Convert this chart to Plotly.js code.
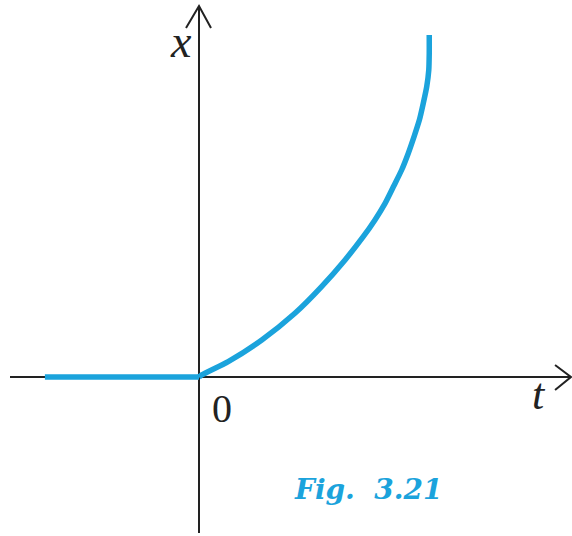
<!DOCTYPE html>
<html>
<head>
<meta charset="utf-8">
<script src="https://cdn.plot.ly/plotly-3.0.1.min.js"></script>
<style>html,body{margin:0;padding:0;background:#fff;}#chart{width:572px;height:536px;}</style>
</head>
<body>
<div id="chart"></div>
<script>
// Data (t and x in arbitrary units)
const tFlat = [-6.7, 0];
const xFlat = [0, 0];
const tCurve = [0, 0.12, 1.27, 2.73, 4.17, 5.33, 6.35, 7.14, 7.65, 8.09, 8.45, 8.81, 9.1, 9.35, 9.58, 9.75, 9.9, 9.99, 10.01, 10.01];
const xCurve = [0, 0.09, 0.67, 1.61, 2.77, 3.93, 5.09, 6.1, 6.83, 7.55, 8.27, 9.0, 9.73, 10.45, 11.17, 11.9, 12.62, 13.35, 14.07, 14.87];
const axisLabels = ["<i>x</i>", "<i>t</i>", "0"];
const figLabel = "<b><i>Fig.&nbsp; 3.21</i></b>";

const blue = "#1ba3dc";
const axisColor = "#222222";

const traces = [
  {x: tFlat, y: xFlat, mode: "lines", line: {color: blue, width: 5.5}, hoverinfo: "skip"},
  {x: tCurve, y: xCurve, mode: "lines", line: {color: blue, width: 5.5, shape: "spline", smoothing: 0.6}, hoverinfo: "skip"}
];

const layout = {
  width: 572, height: 536,
  margin: {l: 0, r: 0, t: 0, b: 0},
  paper_bgcolor: "#ffffff", plot_bgcolor: "#ffffff",
  showlegend: false,
  xaxis: {range: [-8.652, 16.217], visible: false, fixedrange: true},
  yaxis: {range: [-6.913, 16.391], visible: false, fixedrange: true},
  shapes: [
    {type: "line", xref: "x", yref: "y", x0: -8.217, x1: 16.17, y0: 0, y1: 0, line: {color: axisColor, width: 2}, layer: "below"},
    {type: "line", xref: "x", yref: "y", x0: 0, x1: 0, y0: -6.78, y1: 16.13, line: {color: axisColor, width: 2}, layer: "below"},
    {type: "path", xref: "x", yref: "y", path: "M -0.565 15.17 L 0 16.13 L 0.522 15.17", line: {color: axisColor, width: 2}},
    {type: "path", xref: "x", yref: "y", path: "M 15.48 0.52 L 16.17 0 L 15.48 -0.565", line: {color: axisColor, width: 2}}
  ],
  annotations: [
    {x: -0.8, y: 14.6, xref: "x", yref: "y", text: axisLabels[0], showarrow: false, font: {family: "Liberation Serif", size: 46, color: "#222"}},
    {x: 14.8, y: -0.75, xref: "x", yref: "y", text: axisLabels[1], showarrow: false, font: {family: "Liberation Serif", size: 44, color: "#222"}},
    {x: 0.98, y: -1.35, xref: "x", yref: "y", text: axisLabels[2], showarrow: false, font: {family: "Liberation Serif", size: 40, color: "#222"}},
    {x: 7.35, y: -4.87, xref: "x", yref: "y", text: figLabel, showarrow: false, font: {family: "DejaVu Serif", size: 28, color: blue}}
  ]
};

Plotly.newPlot("chart", traces, layout, {displayModeBar: false, staticPlot: true});
</script>
</body>
</html>
